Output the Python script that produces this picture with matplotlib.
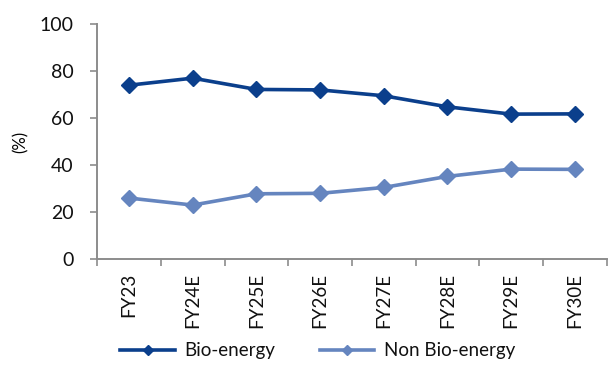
import numpy as np
import matplotlib.pyplot as plt
from matplotlib.ticker import FixedLocator

years = ['FY23', 'FY24E', 'FY25E', 'FY26E', 'FY27E', 'FY28E', 'FY29E', 'FY30E']
bio_energy = [74.0, 77.0, 72.2, 72.0, 69.5, 64.8, 61.7, 61.8]
non_bio_energy = [26.0, 23.0, 27.8, 28.0, 30.5, 35.2, 38.3, 38.2]

plt.rcParams['font.family'] = ['Lato', 'DejaVu Sans']

fig = plt.figure(figsize=(6.11, 3.65), dpi=100)
ax = fig.add_axes([0.159, 0.29, 0.834, 0.644])

x = np.arange(len(years))
ax.plot(x, bio_energy, color='#0b3f8c', lw=2.6, marker='D', ms=8.5,
        label='Bio-energy')
ax.plot(x, non_bio_energy, color='#6585bf', lw=2.6, marker='D', ms=8.5,
        label='Non Bio-energy')

ax.set_xlim(-0.5, len(years) - 0.5)
ax.set_ylim(0, 100)
ax.set_yticks(range(0, 101, 20))
ax.set_xticks(x)
ax.set_xticklabels(years, rotation=90)
ax.xaxis.set_minor_locator(FixedLocator(np.arange(-0.5, len(years), 1)))
ax.tick_params(axis='x', which='major', length=0, pad=10, labelsize=13.5,
               labelcolor='#111111')
ax.tick_params(axis='x', which='minor', length=5, color='#8c8c8c', width=1.2)
ax.tick_params(axis='y', length=5, color='#8c8c8c', width=1.2, labelsize=14,
               pad=12, labelcolor='#111111')

for side in ['top', 'right']:
    ax.spines[side].set_visible(False)
for side in ['left', 'bottom']:
    ax.spines[side].set_color('#8c8c8c')
    ax.spines[side].set_linewidth(1.4)

ax.set_ylabel('(%)', fontsize=12, labelpad=8)

fig.legend(loc='lower center', bbox_to_anchor=(0.52, -0.03), ncol=2,
           frameon=False, fontsize=13.5, handlelength=2.9, handletextpad=0.5,
           columnspacing=2.4, markerscale=0.6, labelcolor='#111111')

fig.savefig('out.png', dpi=100)
